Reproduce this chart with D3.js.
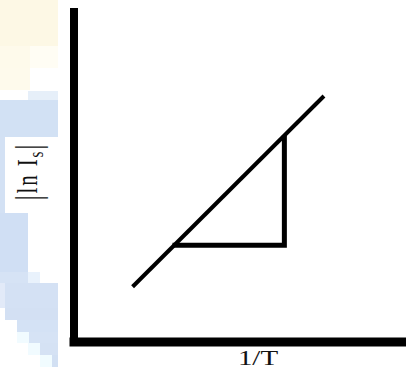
<!DOCTYPE html>
<html>
<head>
<meta charset="utf-8">
<script src="https://cdn.jsdelivr.net/npm/d3@7"></script>
<style>
  html, body { margin: 0; padding: 0; background: #fff; }
  svg { display: block; }
  text { font-family: "Liberation Serif", "Times New Roman", serif; fill: #111; }
</style>
</head>
<body>
<svg id="chart" width="406" height="377"></svg>
<script>
// Schematic Arrhenius-type plot: |ln Is| against 1/T
const lineInvT = [1.79, 7.59];          // fitted line, 1/T (arbitrary units)
const lineLnIs = [1.66, 7.44];          // fitted line, |ln Is|
const slopeInvT = [3.0, 6.39, 6.39];    // slope triangle corners, 1/T
const slopeLnIs = [2.915, 2.915, 6.25]; // slope triangle corners, |ln Is|
const xLabel = "1/T";
const yLabelParts = ["ln I", "s"];

const W = 406, H = 377;
const svg = d3.select("#chart");

// faint watermark down the left margin
const watermark = [
  [0, 0, 58, 46, "#fdf8e5"],
  [0, 46, 30, 22, "#fefaeb"],
  [30, 46, 28, 22, "#fffdf4"],
  [0, 68, 30, 22, "#fefaec"],
  [28, 91, 30, 10, "#e6eff9"],
  [0, 100, 58, 37, "#d2e1f4"],
  [0, 137, 5, 76, "#d3e1f4"],
  [0, 213, 28, 59, "#d0dff4"],
  [0, 272, 28, 11, "#d6e3f5"],
  [28, 272, 12, 11, "#e9f2fc"],
  [0, 283, 58, 25, "#d4e1f4"],
  [0, 283, 5, 25, "#e2eaf8"],
  [5, 308, 53, 12, "#d3e0f3"],
  [17, 320, 41, 12, "#d4e2f5"],
  [17, 332, 12, 11, "#f1fbff"],
  [29, 332, 29, 11, "#d6e3f5"],
  [28, 343, 12, 12, "#f1fbff"],
  [40, 343, 18, 12, "#d5e2f4"],
  [40, 355, 12, 12, "#f1fcff"],
  [52, 355, 6, 12, "#d2e0f3"]
];
svg.append("g").selectAll("rect").data(watermark).join("rect")
  .attr("x", d => d[0]).attr("y", d => d[1])
  .attr("width", d => d[2]).attr("height", d => d[3])
  .attr("fill", d => d[4]);

const x = d3.scaleLinear().domain([0, 10]).range([73.5, 403.5]);
const y = d3.scaleLinear().domain([0, 10]).range([341.5, 11.5]);

// bare axes: heavy lines, no ticks
const yAxis = svg.append("g")
  .attr("transform", `translate(${x(0)},0)`)
  .call(d3.axisLeft(y).tickValues([]).tickSizeOuter(0));
const xAxis = svg.append("g")
  .attr("transform", `translate(0,${y(0)})`)
  .call(d3.axisBottom(x).tickValues([]).tickSizeOuter(0));
yAxis.select(".domain").attr("stroke", "#000").attr("stroke-width", 8)
  .attr("stroke-linecap", "square");
xAxis.select(".domain").attr("stroke", "#000").attr("stroke-width", 9)
  .attr("stroke-linecap", "square");

const line = d3.line().x(d => x(d[0])).y(d => y(d[1]));

// fitted straight line
svg.append("path")
  .datum(d3.zip(lineInvT, lineLnIs))
  .attr("d", line)
  .attr("fill", "none").attr("stroke", "#000").attr("stroke-width", 4);

// slope triangle
svg.append("path")
  .datum(d3.zip(slopeInvT, slopeLnIs))
  .attr("d", line)
  .attr("fill", "none").attr("stroke", "#000").attr("stroke-width", 5)
  .attr("stroke-linejoin", "miter");

// x label
svg.append("text")
  .attr("transform", "translate(258,365) scale(1.38,1)")
  .attr("text-anchor", "middle")
  .attr("font-size", 21)
  .text(xLabel);

// y label: |ln Is|
const yl = svg.append("text")
  .attr("transform", "translate(37,172.5) scale(1.4,1) rotate(-90)")
  .attr("text-anchor", "middle")
  .attr("font-size", 21)
  .attr("textLength", 56)
  .attr("lengthAdjust", "spacing");
yl.append("tspan").attr("font-size", 26).attr("dy", 2).text("|");
yl.append("tspan").attr("dy", -2).text(yLabelParts[0]);
yl.append("tspan").attr("font-size", 15).attr("dy", 4).text(yLabelParts[1]);
yl.append("tspan").attr("font-size", 26).attr("dy", -2).text("|");
</script>
</body>
</html>
